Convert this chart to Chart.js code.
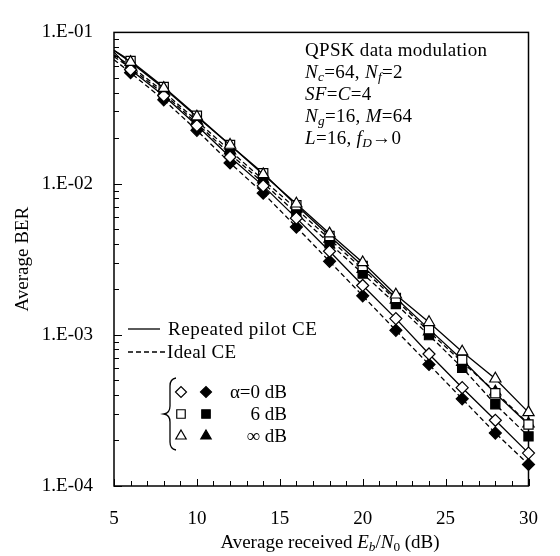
<!DOCTYPE html>
<html>
<head>
<meta charset="utf-8">
<script src="https://cdn.jsdelivr.net/npm/chart.js@4/dist/chart.umd.min.js"></script>
<style>
  body { margin: 0; background: #fff; }
  #wrap { position: relative; width: 560px; height: 556px; font-family: "Liberation Serif", serif; color: #000; }
  .t { position: absolute; font-size: 19px; white-space: nowrap; line-height: 22px; }
  sub { font-size: 70%; vertical-align: -0.25em; line-height: 0; }
</style>
</head>
<body>
<div id="wrap">
  <canvas id="chart"></canvas>
  <div class="t" style="left:305px; top:39px; letter-spacing:0.3px;">
    QPSK data modulation<br>
    <i>N</i><sub><i>c</i></sub>=64, <i>N</i><sub><i>f</i></sub>=2<br>
    <i>SF</i>=<i>C</i>=4<br>
    <i>N</i><sub><i>g</i></sub>=16, <i>M</i>=64<br>
    <i>L</i>=16, <i>f</i><sub><i>D</i></sub>→0
  </div>
  <div class="t" style="left:168px; top:318px; letter-spacing:0.6px;">Repeated pilot CE</div>
  <div class="t" style="left:167px; top:341px; letter-spacing:0.3px;">Ideal CE</div>
  <div class="t" style="right:273px; top:381px; text-align:right;">α=0 dB<br>6 dB<br>∞ dB</div>
  <div class="t" style="left:330px; top:542px; transform:translate(-50%,-50%);">Average received <i>E</i><sub><i>b</i></sub>/<i>N</i><sub>0</sub> (dB)</div>
</div>
<script>
"use strict";

// 1: data (first point at 5 dB is only the start of the curve, no marker)
const snr = [5, 6, 8, 10, 12, 14, 16, 18, 20, 22, 24, 26, 28, 30];

// repeated pilot CE (solid, open markers)
const pilot0 = [7.4e-2, 5.66e-2, 3.81e-2, 2.42e-2, 1.50e-2, 9.66e-3, 5.91e-3, 3.57e-3, 2.12e-3, 1.28e-3, 7.47e-4, 4.47e-4, 2.72e-4, 1.65e-4];
const pilot6 = [7.6e-2, 6.48e-2, 4.35e-2, 2.81e-2, 1.80e-2, 1.17e-2, 7.2e-3, 4.5e-3, 2.85e-3, 1.75e-3, 1.09e-3, 6.84e-4, 4.11e-4, 2.55e-4];
const pilotInf = [7.6e-2, 6.36e-2, 4.28e-2, 2.77e-2, 1.80e-2, 1.15e-2, 7.36e-3, 4.67e-3, 3.01e-3, 1.84e-3, 1.21e-3, 7.73e-4, 5.12e-4, 3.07e-4];

// ideal CE (dashed, filled markers)
const ideal0 = [6.6e-2, 5.41e-2, 3.58e-2, 2.25e-2, 1.37e-2, 8.64e-3, 5.16e-3, 3.06e-3, 1.81e-3, 1.07e-3, 6.36e-4, 3.77e-4, 2.24e-4, 1.39e-4];
const ideal6 = [6.9e-2, 5.82e-2, 3.93e-2, 2.50e-2, 1.57e-2, 1.01e-2, 6.36e-3, 4.03e-3, 2.54e-3, 1.60e-3, 9.95e-4, 6.06e-4, 3.47e-4, 2.13e-4];
const idealInf = [7.1e-2, 6.0e-2, 4.05e-2, 2.6e-2, 1.65e-2, 1.06e-2, 6.8e-3, 4.3e-3, 2.72e-3, 1.70e-3, 1.05e-3, 6.6e-4, 4.2e-4, 2.58e-4];

const yTicks = [1e-4, 1e-3, 1e-2, 1e-1];
const xTicks = [5, 10, 15, 20, 25, 30];

const font = { family: '"Liberation Serif", serif', size: 19 };

// 2: helpers
function points(values) {
  return snr.map((x, i) => ({ x: x, y: values[i] }));
}

function series(values, style, radius, open) {
  return {
    data: points(values),
    borderColor: '#000',
    borderWidth: 1.3,
    borderDash: open ? [] : [5, 3],
    pointStyle: style,
    pointRadius: ctx => ctx.dataIndex === 0 ? 0 : radius,
    pointBorderWidth: 1.2,
    pointBorderColor: '#000',
    pointBackgroundColor: open ? '#fff' : '#000',
    fill: false,
    clip: false,
    tension: 0
  };
}

// axes ticks, box, legend samples
const decor = {
  id: 'decor',
  beforeDatasetsDraw(chart) {
    const { ctx, chartArea: a, scales: { x, y } } = chart;
    ctx.save();
    ctx.strokeStyle = '#000';
    ctx.lineWidth = 1.5;
    ctx.strokeRect(a.left, a.top, a.right - a.left, a.bottom - a.top);

    ctx.lineWidth = 1;
    ctx.beginPath();
    for (let e = -4; e <= -1; e++) {
      for (let k = 1; k < 10; k++) {
        const v = k * Math.pow(10, e);
        if (v > 0.1 + 1e-9) break;
        const py = Math.round(y.getPixelForValue(v)) + 0.5;
        ctx.moveTo(a.left, py);
        ctx.lineTo(a.left + (k === 1 ? 8 : 5), py);
      }
    }
    for (let d = 5; d <= 30; d++) {
      const px = Math.round(x.getPixelForValue(d)) + 0.5;
      ctx.moveTo(px, a.bottom);
      ctx.lineTo(px, a.bottom - (d % 5 === 0 ? 7 : 5));
    }
    ctx.stroke();

    // line samples
    ctx.lineWidth = 1.3;
    ctx.beginPath();
    ctx.moveTo(128, 329);
    ctx.lineTo(160, 329);
    ctx.stroke();
    ctx.setLineDash([5, 3]);
    ctx.beginPath();
    ctx.moveTo(128, 352);
    ctx.lineTo(166, 352);
    ctx.stroke();
    ctx.setLineDash([]);

    // brace
    ctx.lineWidth = 1.3;
    ctx.beginPath();
    ctx.moveTo(176, 378);
    ctx.quadraticCurveTo(170, 379, 170, 386);
    ctx.lineTo(170, 406);
    ctx.quadraticCurveTo(170, 413, 164, 414);
    ctx.quadraticCurveTo(170, 415, 170, 422);
    ctx.lineTo(170, 442);
    ctx.quadraticCurveTo(170, 449, 176, 450);
    ctx.stroke();

    // marker samples
    const rows = [['rectRot', 5.5, 392], ['rect', 6, 414], ['triangle', 6, 436]];
    ctx.lineWidth = 1.2;
    for (const [style, r, py] of rows) {
      ctx.fillStyle = '#fff';
      Chart.helpers.drawPoint(ctx, { pointStyle: style, radius: r, borderWidth: 1.2, rotation: 0 }, 181, py);
      ctx.fillStyle = '#000';
      Chart.helpers.drawPoint(ctx, { pointStyle: style, radius: r, borderWidth: 1.2, rotation: 0 }, 206, py);
    }
    ctx.restore();
  }
};

// 3: chart
new Chart(document.getElementById('chart'), {
  type: 'line',
  data: {
    datasets: [
      series(pilotInf, 'triangle', 6.5, true),
      series(pilot6, 'rect', 6.5, true),
      series(pilot0, 'rectRot', 6, true),
      series(idealInf, 'triangle', 6.5, false),
      series(ideal6, 'rect', 6.5, false),
      series(ideal0, 'rectRot', 6, false)
    ]
  },
  options: {
    responsive: true,
    maintainAspectRatio: false,
    animation: false,
    layout: { padding: { left: 0, right: 18, top: 13, bottom: 0 } },
    plugins: { legend: { display: false }, tooltip: { enabled: false } },
    scales: {
      x: {
        type: 'linear',
        min: 5,
        max: 30,
        grid: { display: false, drawTicks: false },
        border: { display: false },
        afterBuildTicks: s => { s.ticks = xTicks.map(v => ({ value: v })); },
        ticks: { padding: 22, font: font, color: '#000', maxRotation: 0 },
        afterFit: s => { s.height = 70; }
      },
      y: {
        type: 'logarithmic',
        min: 1e-4,
        max: 1e-1,
        grid: { display: false, drawTicks: false },
        border: { display: false },
        afterBuildTicks: s => { s.ticks = yTicks.map(v => ({ value: v })); },
        ticks: {
          padding: 21,
          font: font,
          color: '#000',
          callback: v => '1.E-0' + Math.round(-Math.log10(v))
        },
        title: { display: true, text: 'Average BER', font: font, color: '#000', padding: { top: 12, bottom: 0 } },
        afterFit: s => { s.width = 114; }
      }
    }
  },
  plugins: [decor]
});
</script>
</body>
</html>
